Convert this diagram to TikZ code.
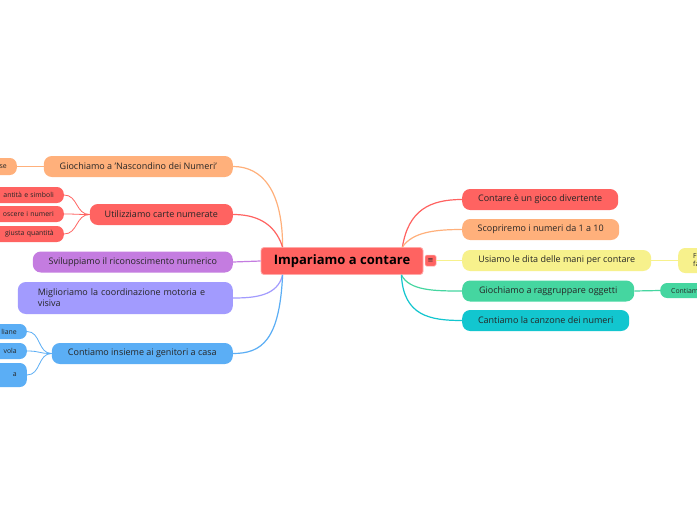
\documentclass[tikz,border=0pt]{standalone}
\usepackage{fontspec}
\setmainfont{Open Sans}
\newfontfamily\dejavu{DejaVu Sans}
\usetikzlibrary{calc}
\definecolor{ink}{HTML}{262626}
\definecolor{cred}{HTML}{FF6361}
\definecolor{corange}{HTML}{FFB07B}
\definecolor{cyellow}{HTML}{F7F18C}
\definecolor{cgreen}{HTML}{45D6A0}
\definecolor{ccyan}{HTML}{12C6CF}
\definecolor{cpurple}{HTML}{C47CE0}
\definecolor{clavender}{HTML}{A29BFE}
\definecolor{cblue}{HTML}{5BAEF5}
\tikzset{
  topic/.style={rounded corners=8pt,minimum height=21pt,inner xsep=0pt,text=ink,font=\fontsize{9}{11}\selectfont},
  leafl/.style={rounded corners=7pt,minimum height=16pt,text width=90pt,align=right,inner xsep=10pt,text=ink,font=\fontsize{6.9}{8}\selectfont},
  leafr/.style={rounded corners=7pt,minimum height=15pt,text width=90pt,align=left,inner xsep=11pt,text=ink,font=\fontsize{6.9}{8}\selectfont},
  link/.style={line width=1.2pt}
}
\begin{document}
\begin{tikzpicture}[x=1pt,y=-1pt]
\useasboundingbox[fill=white] (0,0) rectangle (697,520);
\clip (0,0) rectangle (697,520);
% central topic
\node[fill=cred,draw=cred!55!white,line width=0.8pt,rounded corners=3pt,minimum width=162pt,minimum height=27pt,text=black,font=\fontsize{13}{15}\selectfont\bfseries] (root) at (342,261) {Impariamo a contare};
\node[fill=cred,draw=cred!55!white,line width=0.5pt,rounded corners=1.5pt,minimum size=11pt,inner sep=0pt,text=ink,font=\fontsize{7}{7}\dejavu] (menu) at (430.5,260.5) {≡};
% right topics
\node[topic,fill=cred,minimum width=156pt,anchor=west] (r1) at (462,199.5) {Contare è un gioco divertente};
\node[topic,fill=corange,minimum width=157pt,anchor=west] (r2) at (462,229.5) {Scopriremo i numeri da 1 a 10};
\node[topic,fill=cyellow,minimum width=189pt,anchor=west] (r3) at (462,260.5) {Usiamo le dita delle mani per contare};
\node[topic,fill=cgreen,minimum width=172pt,anchor=west] (r4) at (462,291) {Giochiamo a raggruppare oggetti};
\node[topic,fill=ccyan,minimum width=167pt,anchor=west] (r5) at (462,320.5) {Cantiamo la canzone dei numeri};
\node[leafr,fill=cyellow,minimum height=25pt,inner xsep=15pt,anchor=west] (r3a) at (678,260.5) {F\\fa};
\node[leafr,fill=cgreen,anchor=west] (r4a) at (660,290.5) {Contiam};
% left topics
\node[topic,fill=corange,minimum width=189pt,anchor=east] (l1) at (233,166.5) {Giochiamo a 'Nascondino dei Numeri'};
\node[topic,fill=cred,minimum width=143pt,anchor=east] (l2) at (233,214.5) {Utilizziamo carte numerate};
\node[topic,fill=cpurple,minimum width=200pt,anchor=east] (l3) at (233,262) {Sviluppiamo il riconoscimento numerico};
\node[topic,fill=clavender,text width=175pt,align=left,inner xsep=20pt,minimum height=32pt,anchor=east] (l4) at (233,298) {Miglioriamo la coordinazione motoria e\\visiva};
\node[topic,fill=cblue,minimum width=181pt,anchor=east] (l5) at (233,353.5) {Contiamo insieme ai genitori a casa};
% left leaves
\node[leafl,fill=corange,minimum height=17pt,anchor=east] (l1a) at (17,166.5) {se};
\node[leafl,fill=cred,anchor=east] (l2a) at (64,195) {antità e simboli};
\node[leafl,fill=cred,anchor=east] (l2b) at (64,214) {oscere i numeri};
\node[leafl,fill=cred,anchor=east] (l2c) at (64,234) {giusta quantità};
\node[leafl,fill=cblue,minimum height=15pt,anchor=east] (l5a) at (27,331.5) {liane};
\node[leafl,fill=cblue,anchor=east] (l5b) at (27,351) {vola};
\node[leafl,fill=cblue,minimum height=24pt,anchor=east] (l5c) at (27,375) {a\\[7pt]};
% connectors from the central topic
\coordinate (lup) at ($(root.north west)+(22,0)$);
\coordinate (ldn) at ($(root.south west)+(22,0)$);
\coordinate (rup) at ($(root.north east)+(-21,0)$);
\coordinate (rdn) at ($(root.south east)+(-22,0)$);
\draw[link,corange] (lup) .. controls +(0,-57) and +(29,0) .. (l1.east);
\draw[link,cred] (lup) .. controls +(-8,-25) and +(22,0) .. (l2.east);
\draw[link,cpurple] (root.west) -- (l3.east);
\draw[link,clavender] (ldn) .. controls +(-5,21) and +(22,0) .. (l4.east);
\draw[link,cblue] (ldn) .. controls +(-3,65) and +(29,0) .. (l5.east);
\draw[link,cred] (rup) .. controls +(6,-37) and +(-32,0) .. (r1.west);
\draw[link,corange] (rup) .. controls +(10,-15) and +(-27,0) .. (r2.west);
\draw[link,cyellow] (menu.east) -- (r3.west);
\draw[link,cgreen] (rdn) .. controls +(8,16) and +(-27,0) .. (r4.west);
\draw[link,ccyan] (rdn) .. controls +(2,41) and +(-32,0) .. (r5.west);
% connectors to the leaves
\draw[link,cyellow] (r3.east) -- (r3a.west);
\draw[link,cgreen] (r4.east) -- (r4a.west);
\draw[line width=0.8pt,corange] (l1.west) -- (l1a.east);
\foreach \n in {l2a,l2b,l2c}{\draw[line width=0.8pt,cred] (l2.west) .. controls +(-14,0) and +(14,0) .. (\n.east);}
\foreach \n in {l5a,l5b,l5c}{\draw[line width=0.8pt,cblue] (l5.west) .. controls +(-14,0) and +(14,0) .. (\n.east);}
\end{tikzpicture}
\end{document}
